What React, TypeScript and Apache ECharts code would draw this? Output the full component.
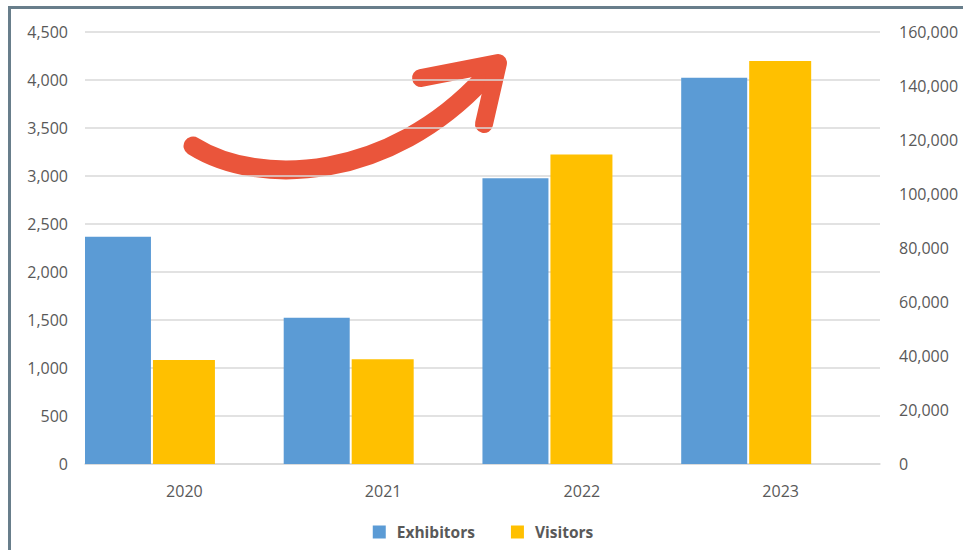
import React, { useEffect, useRef } from "react";
import * as echarts from "echarts";

const years = ["2020", "2021", "2022", "2023"];
const exhibitors = [2368, 1524, 2976, 4024];
const visitors = [38500, 38800, 114600, 149300];
const leftTicks = { min: 0, max: 4500, interval: 500 };
const rightTicks = { min: 0, max: 160000, interval: 20000 };

const fmt = (v: number) => v.toLocaleString("en-US");

export default function App() {
  const ref = useRef<HTMLDivElement>(null);
  useEffect(() => {
    if (!ref.current) return;
    const chart = echarts.init(ref.current, null, { renderer: "svg" });
    const labelStyle = {
      color: "#595959",
      fontFamily: "Open Sans",
      fontSize: 16,
    };
    chart.setOption({
      animation: false,
      backgroundColor: "#ffffff",
      grid: { left: 85, right: 86, top: 32, bottom: 86 },
      legend: {
        data: ["Exhibitors", "Visitors"],
        bottom: 5,
        left: "center",
        icon: "rect",
        itemWidth: 13,
        itemHeight: 13,
        itemGap: 36,
        textStyle: {
          color: "#595959",
          fontFamily: "Open Sans",
          fontWeight: "bold",
          fontSize: 15.5,
          padding: [0, 0, 0, 6],
        },
      },
      xAxis: {
        type: "category",
        data: years,
        axisTick: { show: false },
        axisLine: { lineStyle: { color: "#D9D9D9", width: 1.5 } },
        axisLabel: { ...labelStyle, margin: 19 },
      },
      yAxis: [
        {
          type: "value",
          ...leftTicks,
          axisLabel: { ...labelStyle, margin: 17, formatter: fmt },
          axisLine: { show: false },
          axisTick: { show: false },
          splitLine: { lineStyle: { color: "#D9D9D9", width: 1.5 } },
        },
        {
          type: "value",
          ...rightTicks,
          position: "right",
          axisLabel: { ...labelStyle, margin: 19, formatter: fmt },
          axisLine: { show: false },
          axisTick: { show: false },
          splitLine: { show: false },
        },
      ],
      series: [
        {
          name: "Exhibitors",
          type: "bar",
          yAxisIndex: 0,
          data: exhibitors,
          barWidth: 66,
          barGap: "3%",
          itemStyle: { color: "#5B9BD5" },
        },
        {
          name: "Visitors",
          type: "bar",
          yAxisIndex: 1,
          data: visitors,
          barWidth: 62,
          barGap: "3%",
          itemStyle: { color: "#FFC000" },
        },
        {
          name: "spacer",
          type: "bar",
          yAxisIndex: 0,
          data: years.map(() => "-"),
          barWidth: 67,
          barGap: "3%",
          itemStyle: { color: "transparent" },
          silent: true,
        },
      ],
      graphic: [
        {
          type: "line",
          shape: { x1: 8, y1: 7.5, x2: 963, y2: 7.5 },
          style: { stroke: "#687E8B", lineWidth: 3 },
        },
        {
          type: "line",
          shape: { x1: 9.5, y1: 6, x2: 9.5, y2: 550 },
          style: { stroke: "#687E8B", lineWidth: 3 },
        },
        {
          type: "bezierCurve",
          shape: {
            x1: 193, y1: 146,
            cpx1: 260, cpy1: 188,
            cpx2: 390, cpy2: 180,
            x2: 484, y2: 78,
          },
          style: { stroke: "#EA553B", lineWidth: 19, lineCap: "round", fill: null },
        },
        {
          type: "polyline",
          shape: { points: [[421, 78], [498, 63], [484, 124]] },
          style: {
            stroke: "#EA553B",
            lineWidth: 18,
            lineCap: "round",
            lineJoin: "round",
            fill: null,
          },
        },
      ],
    });
    return () => chart.dispose();
  }, []);
  return (
    <div
      ref={ref}
      style={{ position: "fixed", left: 0, top: 0, width: 966, height: 550 }}
    />
  );
}
